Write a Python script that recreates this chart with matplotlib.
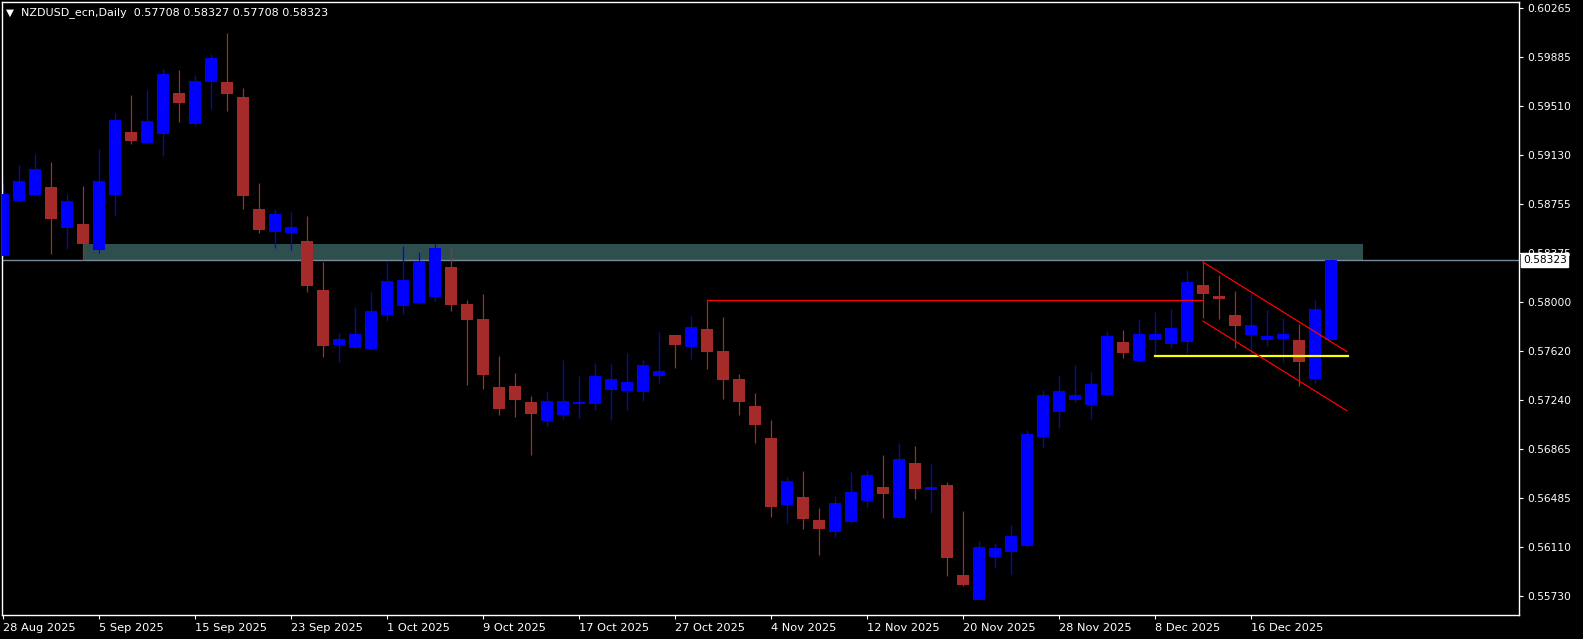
import matplotlib
matplotlib.use("Agg")
import matplotlib.pyplot as plt
import matplotlib.transforms as mtransforms
import numpy as np
import pandas as pd

# daily NZDUSD candles, 28 Aug 2025 .. 23 Dec 2025
opens = [0.58356, 0.58778, 0.58824, 0.58886, 0.58570, 0.58600, 0.58400, 0.58824, 0.59310, 0.59225,
         0.59297, 0.59611, 0.59372, 0.59696, 0.59696, 0.59580, 0.58716, 0.58539, 0.58531, 0.58469,
         0.58091, 0.57667, 0.57644, 0.57636, 0.57899, 0.57968, 0.57991, 0.58037, 0.58269, 0.57983,
         0.57868, 0.57343, 0.57351, 0.57228, 0.57081, 0.57127, 0.57212, 0.57212, 0.57320, 0.57312,
         0.57305, 0.57428, 0.57744, 0.57652, 0.57791, 0.57621, 0.57405, 0.57197, 0.56950, 0.56433,
         0.56495, 0.56318, 0.56225, 0.56302, 0.56464, 0.56572, 0.56333, 0.56757, 0.56549, 0.56587,
         0.55893, 0.55701, 0.56032, 0.56071, 0.56117, 0.56958, 0.57151, 0.57243, 0.57204, 0.57282,
         0.57690, 0.57544, 0.57706, 0.57675, 0.57690, 0.58130, 0.58045, 0.57899, 0.57744, 0.57706,
         0.57714, 0.57706, 0.57405, 0.57708]
highs = [0.58919, 0.59055, 0.59140, 0.59079, 0.58832, 0.58894, 0.59179, 0.59457, 0.59595, 0.59634,
         0.59796, 0.59788, 0.59750, 0.59912, 0.60074, 0.59649, 0.58917, 0.58716, 0.58693, 0.58662,
         0.58307, 0.57760, 0.57960, 0.58076, 0.58307, 0.58431, 0.58384, 0.58454, 0.58423, 0.58014,
         0.58061, 0.57582, 0.57451, 0.57274, 0.57312, 0.57552, 0.57428, 0.57528, 0.57520, 0.57606,
         0.57552, 0.57767, 0.57744, 0.57891, 0.58014, 0.57883, 0.57444, 0.57297, 0.57089, 0.56649,
         0.56695, 0.56410, 0.56503, 0.56688, 0.56703, 0.56819, 0.56911, 0.56888, 0.56750, 0.56611,
         0.56387, 0.56156, 0.56140, 0.56279, 0.57012, 0.57320, 0.57436, 0.57513, 0.57459, 0.57775,
         0.57783, 0.57868, 0.57922, 0.57945, 0.58246, 0.58307, 0.58207, 0.58084, 0.58068, 0.57937,
         0.57876, 0.57829, 0.58014, 0.58327]
lows = [0.58346, 0.58770, 0.58820, 0.58369, 0.58408, 0.58323, 0.58377, 0.58662, 0.59217, 0.59217,
        0.59125, 0.59387, 0.59356, 0.59487, 0.59472, 0.58716, 0.58531, 0.58415, 0.58400, 0.58076,
        0.57575, 0.57536, 0.57636, 0.57630, 0.57852, 0.57906, 0.57985, 0.58007, 0.57929, 0.57359,
        0.57328, 0.57127, 0.57112, 0.56819, 0.57043, 0.57096, 0.57104, 0.57166, 0.57089, 0.57166,
        0.57235, 0.57374, 0.57490, 0.57559, 0.57482, 0.57251, 0.57127, 0.56911, 0.56341, 0.56294,
        0.56248, 0.56048, 0.56186, 0.56296, 0.56418, 0.56333, 0.56328, 0.56480, 0.56372, 0.55886,
        0.55810, 0.55698, 0.55947, 0.55901, 0.56109, 0.56873, 0.57027, 0.57228, 0.57096, 0.57274,
        0.57567, 0.57540, 0.57582, 0.57644, 0.57606, 0.57876, 0.57868, 0.57644, 0.57590, 0.57660,
        0.57536, 0.57351, 0.57374, 0.57708]
closes = [0.58832, 0.58932, 0.59025, 0.58639, 0.58778, 0.58446, 0.58932, 0.59403, 0.59241, 0.59395,
          0.59757, 0.59534, 0.59703, 0.59881, 0.59603, 0.58816, 0.58554, 0.58678, 0.58577, 0.58122,
          0.57660, 0.57714, 0.57752, 0.57929, 0.58161, 0.58169, 0.58315, 0.58415, 0.57976, 0.57860,
          0.57436, 0.57174, 0.57243, 0.57135, 0.57235, 0.57235, 0.57228, 0.57428, 0.57405, 0.57382,
          0.57513, 0.57467, 0.57667, 0.57806, 0.57613, 0.57397, 0.57228, 0.57050, 0.56418, 0.56618,
          0.56325, 0.56248, 0.56449, 0.56533, 0.56665, 0.56518, 0.56788, 0.56557, 0.56572, 0.56024,
          0.55816, 0.56109, 0.56102, 0.56194, 0.56981, 0.57282, 0.57312, 0.57282, 0.57366, 0.57737,
          0.57606, 0.57752, 0.57752, 0.57798, 0.58153, 0.58061, 0.58022, 0.57814, 0.57822, 0.57737,
          0.57752, 0.57536, 0.57945, 0.58323]

dates = pd.bdate_range("2025-08-28", periods=len(closes))

y_ticks = [0.60265, 0.59885, 0.59510, 0.59130, 0.58755, 0.58375, 0.58000,
           0.57620, 0.57240, 0.56865, 0.56485, 0.56110, 0.55730]

# objects drawn on the chart
zone_bars = (5, 85)
zone_prices = (0.58323, 0.58446)
bid = 0.58323
level_bars = (44, 75)
level_price = 0.58014
support_bars = (72, 84.06)
support_price = 0.57585
chan_bars = (75, 84.0)
chan_upper = (0.58307, 0.57616)
chan_lower = (0.57852, 0.57160)

title = "NZDUSD_ecn,Daily  0.57708 0.58327 0.57708 0.58323"

bull_col = "#0000FF"
bear_col = "#A52A2A"

W, H = 1583, 639
fig = plt.figure(figsize=(W / 100, H / 100), dpi=100, facecolor="black")
# plot frame in pixels: x 2..1519, y 2..614.5
ax = fig.add_axes([2 / W, (H - 614.5) / H, 1517 / W, 612.5 / H])
ax.set_facecolor("black")

x = np.arange(len(closes))
o = np.array(opens); c = np.array(closes)
hi = np.array(highs); lo = np.array(lows)
up = c >= o
cols = np.where(up, bull_col, bear_col)

# zone + bid line behind candles
ax.fill_between(zone_bars, zone_prices[0], zone_prices[1], color="#2F4F4F", lw=0, zorder=1)
ax.axhline(bid, color="#778899", lw=1.0, zorder=1.5)

# wicks
ax.vlines(x, lo, hi, colors=cols, lw=0.9, zorder=2)
# bodies
body_lo = np.minimum(o, c)
body_h = np.maximum(np.abs(c - o), 0.00008)
ax.bar(x, body_h, bottom=body_lo, width=0.69, color=cols, linewidth=0, zorder=3)

# drawn objects
ax.plot(level_bars, [level_price, level_price], color="red", lw=0.9, zorder=4)
ax.plot(support_bars, [support_price, support_price], color="#FFFF00", lw=1.6, zorder=4)
ax.plot(chan_bars, chan_upper, color="red", lw=0.9, zorder=4)
ax.plot(chan_bars, chan_lower, color="red", lw=0.9, zorder=4)

ax.set_xlim(-0.0625, 94.75)
ax.set_ylim(0.55589, 0.60313)

for s in ax.spines.values():
    s.set_color("white")
    s.set_linewidth(1.0)

# price scale on the right
ax.yaxis.tick_right()
ax.set_yticks(y_ticks)
ax.set_yticklabels(["%.5f" % v for v in y_ticks])
ax.tick_params(axis="y", colors="white", labelcolor="white", length=3, width=0.8,
               pad=3, labelsize=7.7)

# dates every 6 bars
xt = x[::6]
ax.set_xticks(xt)
ax.set_xticklabels([f"{d.day} {d:%b %Y}" for d in dates[::6]], ha="left")
ax.tick_params(axis="x", colors="white", labelcolor="white", length=3, width=0.8,
               pad=3, labelsize=8.2)

# bid label box
trans = mtransforms.blended_transform_factory(ax.transAxes, ax.transData)
ax.text(1 + 4 / 1517, bid, "%.5f" % bid, transform=trans, ha="left", va="center",
        fontsize=7.7, color="black", clip_on=False, zorder=10,
        bbox=dict(boxstyle="square,pad=0.15", facecolor="white", edgecolor="white"))

# header
fig.text(6 / W, 1 - 12.5 / H, "\u25bc", color="white", fontsize=7.5, va="center", ha="left")
fig.text(21 / W, 1 - 12.5 / H, title, color="white", fontsize=8.0, va="center", ha="left")

fig.savefig("out.png", dpi=100, facecolor="black")
